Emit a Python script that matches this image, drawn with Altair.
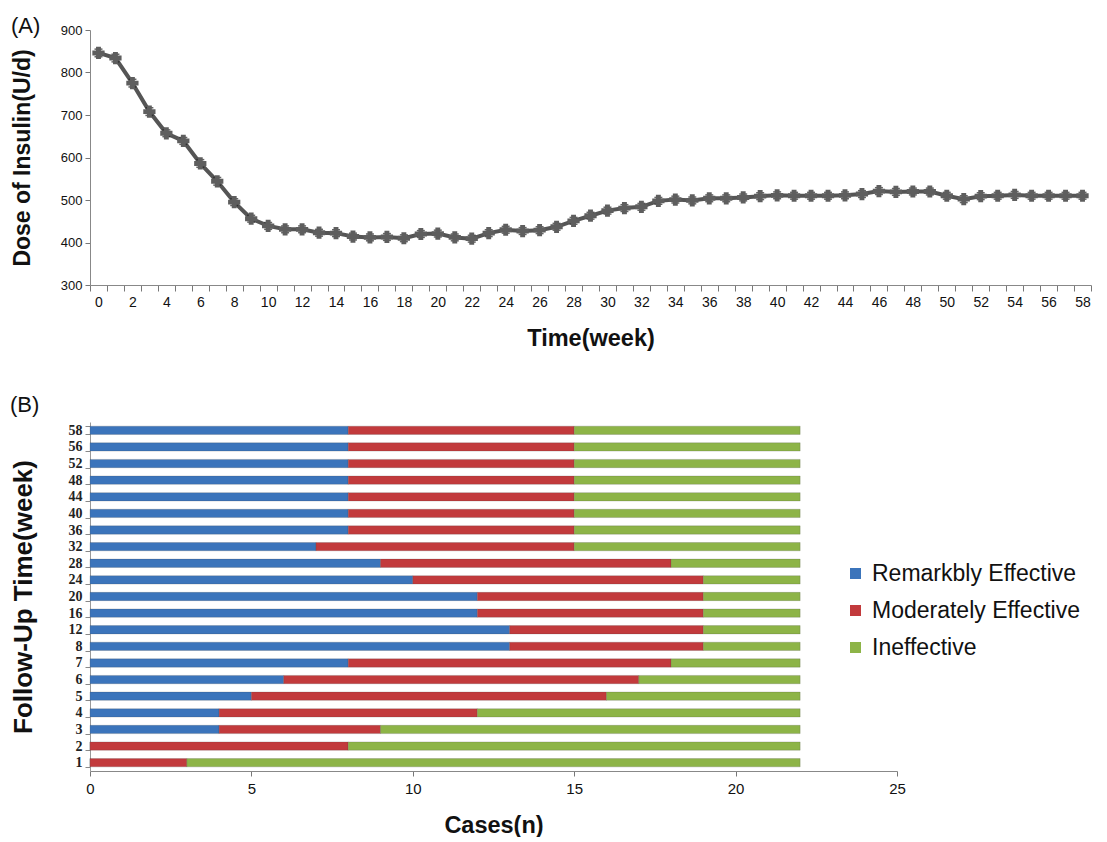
import altair as alt
import pandas as pd

# ---------------- Panel A data ----------------
weeks = list(range(0, 59))
dose = [846, 834, 775, 708, 657, 639, 586, 544, 495, 456,
        439, 431, 431, 423, 422, 414, 412, 413, 410, 420,
        421, 412, 409, 422, 430, 427, 429, 437, 451, 463,
        475, 481, 484, 498, 501, 499, 504, 504, 506, 509,
        511, 510, 510, 510, 511, 514, 521, 519, 520, 520,
        510, 502, 509, 510, 512, 510, 510, 510, 510]
dose_err = [9, 9, 9, 9, 8, 8, 9, 9, 8, 8,
            8, 8, 8, 8, 8, 8, 8, 8, 8, 8,
            8, 8, 8, 8, 8, 8, 8, 8, 8, 8,
            8, 8, 8, 8, 8, 8, 8, 8, 8, 8,
            8, 8, 8, 8, 8, 8, 8, 8, 8, 8,
            8, 8, 8, 8, 8, 8, 8, 8, 8]

# ---------------- Panel B data ----------------
follow_up = ["58", "56", "52", "48", "44", "40", "36", "32", "28", "24", "20",
             "16", "12", "8", "7", "6", "5", "4", "3", "2", "1"]
remarkably = [8, 8, 8, 8, 8, 8, 8, 7, 9, 10, 12, 12, 13, 13, 8, 6, 5, 4, 4, 0, 0]
moderately = [7, 7, 7, 7, 7, 7, 7, 8, 9, 9, 7, 7, 6, 6, 10, 11, 11, 8, 5, 8, 3]
ineffective = [7, 7, 7, 7, 7, 7, 7, 7, 4, 3, 3, 3, 3, 3, 4, 5, 6, 10, 13, 14, 19]
categories = ["Remarkbly Effective", "Moderately Effective", "Ineffective"]
colors = ["#3b74bb", "#c23a3c", "#8db447"]

dfA = pd.DataFrame({"week": weeks, "dose": dose, "err": dose_err})
dfA["lo"] = dfA["dose"] - dfA["err"]
dfA["hi"] = dfA["dose"] + dfA["err"]

rows = []
for i, w in enumerate(follow_up):
    for k, (cat, vals) in enumerate(zip(categories, [remarkably, moderately, ineffective])):
        rows.append({"week": w, "category": cat, "cases": vals[i], "order": k})
dfB = pd.DataFrame(rows)

SANS = "Liberation Sans, Arial, Helvetica, sans-serif"
NARROW = "Liberation Sans Narrow, Arial Narrow, Liberation Sans, Arial, sans-serif"
SERIF = "Liberation Serif, Times New Roman, serif"

xA = alt.X("week:O", bandPosition=0.5,
           scale=alt.Scale(type="band", paddingInner=0, paddingOuter=0),
           axis=alt.Axis(title="Time(week)", labelAngle=0,
                         labelExpr="datum.value % 2 == 0 ? datum.label : ''",
                         tickBand="extent", tickSize=6, tickColor="#777",
                         domainColor="#888", labelFont=NARROW, labelFontSize=14,
                         labelColor="#111", labelPadding=4,
                         titleFont=SANS, titleFontSize=23.5, titleFontWeight="bold",
                         titleColor="#111", titlePadding=17))
yA = alt.Y("dose:Q", scale=alt.Scale(domain=[300, 900], nice=False),
           axis=alt.Axis(title="Dose of Insulin(U/d)", values=[300, 400, 500, 600, 700, 800, 900],
                         grid=False, tickSize=5, tickColor="#777", domainColor="#888",
                         labelFont=NARROW, labelFontSize=13, labelColor="#111", labelPadding=3,
                         titleFont=SANS, titleFontSize=23, titleFontWeight="bold",
                         titleColor="#111", titlePadding=22, minExtent=34, maxExtent=34))

baseA = alt.Chart(dfA)
lineA = baseA.mark_line(color="#555555", strokeWidth=4).encode(x=xA, y=yA)
errA = baseA.mark_rule(color="#222", strokeWidth=1).encode(
    x=alt.X("week:O", bandPosition=0.5), y="lo:Q", y2="hi:Q")
capHi = baseA.mark_tick(color="#222", size=8, thickness=1.5, orient="horizontal").encode(
    x=alt.X("week:O"), y="hi:Q")
capLo = baseA.mark_tick(color="#222", size=8, thickness=1.5, orient="horizontal").encode(
    x=alt.X("week:O"), y="lo:Q")
ptsA = baseA.mark_point(shape="cross", filled=True, size=150, color="#5e5e5e", opacity=1).encode(
    x=alt.X("week:O", bandPosition=0.5), y="dose:Q")

panelA = alt.layer(lineA, errA, capHi, capLo, ptsA).properties(
    width=1001, height=255,
    title=alt.TitleParams("(A)", anchor="start", frame="bounds", font=SANS,
                          fontSize=22, fontWeight="normal", color="#111", offset=-14))

panelB = alt.Chart(dfB).mark_bar(strokeWidth=0.6, stroke="#444", strokeOpacity=0.35).encode(
    y=alt.Y("week:N", sort=follow_up,
            scale=alt.Scale(paddingInner=0.5, paddingOuter=0.25),
            axis=alt.Axis(title="Follow-Up Time(week)", tickBand="extent", tickSize=5,
                          tickColor="#888", domainColor="#999", labelFont=SERIF,
                          labelFontSize=14, labelFontWeight="bold", labelColor="#222",
                          labelPadding=3, titleFont=SANS, titleFontSize=26,
                          titleFontWeight="bold", titleColor="#111", titlePadding=20,
                          minExtent=34, maxExtent=34)),
    x=alt.X("cases:Q", stack="zero", scale=alt.Scale(domain=[0, 25], nice=False),
            axis=alt.Axis(title="Cases(n)", values=[0, 5, 10, 15, 20, 25], grid=False,
                          tickSize=5, tickColor="#777", domainColor="#888",
                          labelFont=SANS, labelFontSize=15, labelColor="#111",
                          labelFlush=False,
                          labelPadding=5, titleFont=SANS, titleFontSize=23.5,
                          titleFontWeight="bold", titleColor="#111", titlePadding=17)),
    color=alt.Color("category:N", sort=categories,
                    scale=alt.Scale(domain=categories, range=colors),
                    legend=alt.Legend(title=None, orient="none", legendX=754, legendY=532,
                                      symbolType="square", symbolSize=121,
                                      symbolStrokeWidth=0, labelFont=SANS,
                                      labelFontSize=23, labelColor="#111", labelLimit=400,
                                      rowPadding=13, labelOffset=5, padding=0)),
    order=alt.Order("order:Q")
).properties(
    width=807, height=349,
    title=alt.TitleParams("(B)", anchor="start", frame="bounds", font=SANS,
                          fontSize=22, fontWeight="normal", color="#111", offset=-2))

chart = alt.vconcat(panelA, panelB, spacing=44).properties(
    padding={"left": 10, "top": 15, "right": 5, "bottom": 0}
).configure_view(stroke=None).configure_concat(spacing=44)

chart.save("out.html", embed_options={"renderer": "svg", "actions": False})
